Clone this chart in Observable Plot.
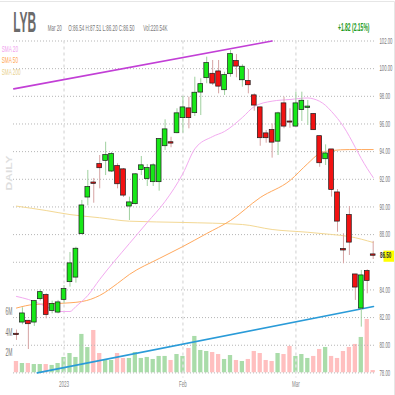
<!DOCTYPE html>
<html><head><meta charset="utf-8">
<script src="https://cdn.jsdelivr.net/npm/d3@7"></script>
<script src="https://cdn.jsdelivr.net/npm/@observablehq/plot@0.6"></script>
<style>
body{margin:0;background:#fff;}
#chart{position:relative;width:395px;height:395px;overflow:hidden;background:#fff;}
#chart svg{position:absolute;left:0;top:0;}
</style></head><body>
<div id="chart"></div>
<script>
// ---- data ----
const dates = ["Dec 20","Dec 21","Dec 22","Dec 23","Dec 27","Dec 28","Dec 29","Dec 30",
"Jan 3","Jan 4","Jan 5","Jan 6","Jan 9","Jan 10","Jan 11","Jan 12","Jan 13","Jan 17","Jan 18","Jan 19","Jan 20","Jan 23","Jan 24","Jan 25","Jan 26","Jan 27","Jan 30","Jan 31",
"Feb 1","Feb 2","Feb 3","Feb 6","Feb 7","Feb 8","Feb 9","Feb 10","Feb 13","Feb 14","Feb 15","Feb 16","Feb 17","Feb 21","Feb 22","Feb 23","Feb 24","Feb 27","Feb 28",
"Mar 1","Mar 2","Mar 3","Mar 6","Mar 7","Mar 8","Mar 9","Mar 10","Mar 13","Mar 14","Mar 15","Mar 16","Mar 17","Mar 20"];
const opens  = [80.80,81.67,81.74,81.67,83.36,83.60,82.51,82.39,83.31,84.59,84.92,88.06,90.71,91.74,93.07,93.36,92.59,92.93,92.69,90.06,90.23,92.69,92.04,91.82,91.82,94.42,94.65,95.36,96.45,97.10,96.81,98.30,99.34,99.60,99.77,98.47,99.63,100.52,99.19,99.07,98.04,97.17,95.29,95.53,94.75,97.46,96.15,95.84,97.03,97.19,96.69,95.09,93.48,94.13,91.02,86.93,89.38,85.09,82.68,85.33,86.54];
const highs  = [81.10,82.71,81.79,83.24,84.01,83.72,83.19,83.24,84.32,86.71,87.09,90.47,92.64,92.06,93.72,94.68,93.94,93.12,92.78,90.71,92.40,93.65,93.07,93.12,94.93,96.30,95.04,97.10,97.99,97.94,99.38,99.27,100.83,100.59,100.59,99.74,101.31,101.02,100.28,99.94,98.18,97.21,95.53,96.01,96.85,97.94,97.10,98.30,98.30,97.70,96.74,95.10,94.49,94.15,91.26,88.06,90.03,85.12,85.41,85.46,87.51];
const lows   = [80.35,81.48,79.69,81.36,83.19,81.91,82.27,82.27,83.00,84.20,84.49,88.00,90.08,90.27,91.31,92.27,92.49,91.31,90.68,89.02,90.15,92.27,91.48,91.48,91.14,94.08,94.28,95.29,95.33,95.65,96.54,96.61,98.91,98.78,98.18,98.06,99.38,99.34,98.66,98.18,96.92,94.39,94.61,93.53,93.72,95.65,95.69,95.80,96.18,95.89,95.53,92.87,93.00,90.71,88.17,85.89,86.49,83.24,81.31,83.72,86.20];
const closes = [80.76,82.27,81.55,83.16,83.81,82.22,82.95,83.07,84.03,85.89,86.95,90.08,91.41,91.70,92.83,93.72,93.79,91.67,90.85,90.30,92.33,92.98,92.78,92.98,94.88,95.58,94.61,96.74,97.17,96.45,98.23,98.85,100.37,98.95,98.73,99.51,101.02,100.18,100.11,98.83,97.36,95.00,95.00,94.68,96.74,95.84,96.13,97.46,97.65,97.23,95.58,93.19,93.84,91.26,88.97,86.88,87.45,84.20,85.02,84.68,86.50];
const volumesM = [1.12,0.92,0.92,0.82,0.82,0.82,0.73,0.92,1.52,1.91,1.52,3.80,2.50,4.19,1.91,1.32,1.22,1.91,1.42,1.42,2.01,1.42,1.52,1.32,1.62,1.62,1.22,1.81,1.62,2.41,3.60,2.21,2.11,2.01,1.81,1.32,1.71,1.22,1.12,1.32,2.11,1.91,1.22,1.12,1.91,1.81,2.61,1.62,1.81,1.42,1.62,2.31,2.51,1.62,1.42,2.11,2.51,2.81,3.50,5.28,0.22054];

// moving averages sampled at bar indices
const sma20Idx = [0,2,5,7,9,10,12,14,19,22,25,28,30,33,35,38,40,43,46,49,50,52,53,54,55,56,57,58,59,60];
const sma20Val = [83.53,83.31,82.80,82.44,82.44,82.80,83.60,84.76,87.36,88.88,90.40,92.42,94.20,95.09,95.46,96.47,97.26,97.65,97.77,97.88,97.81,97.34,96.90,96.40,95.82,95.10,94.30,93.50,92.78,92.13];
const sma50Idx = [0,3,7,11,14,17,19,24,28,32,36,41,46,49,51,53,56,60];
const sma50Val = [82.69,82.95,83.02,83.16,83.60,84.47,85.12,86.27,87.14,88.08,89.02,90.68,91.91,93.14,93.87,94.08,94.15,94.15];
const sma200Idx = [0,5,9,14,19,28,38,43,49,53,56,60];
const sma200Val = [90.06,89.74,89.45,89.22,88.97,88.88,88.73,88.37,88.17,88.01,87.86,87.43];

// trend lines (endpoints)
const upperTrendIdx = [-0.45, 43];
const upperTrendVal = [98.54, 102.0];
const lowerTrendIdx = [3.5, 60.05];
const lowerTrendVal = [78.0, 82.8];

const priceTicks = [78,80,82,84,86,88,90,92,94,96,98,100,102];
const hiddenPriceLabel = 86;
const volumeTicksM = [2,4,6];
const monthStarts = ["Jan 3","Feb 1","Mar 1"];
const monthLabels = ["2023","Feb","Mar"];

const ticker = "LYB";
const lastDate = "Mar 20";
const change = "+1.82 (2.15%)";
const volText = "Vol:220.54K";

// ---- build ----
const data = dates.map((d,i)=>({i, date:d, open:opens[i], high:highs[i], low:lows[i], close:closes[i], volume:volumesM[i]*1e6, up: closes[i] >= opens[i]}));
const monthIdx = monthStarts.map(m => dates.indexOf(m));
const pts = (I,V) => I.map((x,k)=>({x, y:V[k]}));
const last = data[data.length-1];

const W = 395, H = 395;
const ML = 13, MR = 20, MT = 40.5, MB = 22.6;
const xDomain = [-0.5, 60.39];
const FONT = "Liberation Sans, Arial, sans-serif";

const vol = Plot.plot({
  width: W, height: H, marginLeft: ML, marginRight: MR, marginTop: MT, marginBottom: MB,
  style: {background: "transparent", fontFamily: FONT, fontSize: "10px"},
  x: {domain: xDomain, axis: null},
  y: {domain: [0, 6e6], range: [372.3, 311.7], label: null},
  marks: [
    Plot.rect(data, {x1: d => d.i - 0.36, x2: d => d.i + 0.36, y1: 0, y2: "volume", fill: d => d.up ? "#a9dca9" : "#ffbfbf"}),
    Plot.axisY(volumeTicksM.map(v => v*1e6), {anchor: "left", tickSize: 0, tickPadding: 1, tickFormat: d => d/1e6 + "M", fill: "#777", fontSize: 10, label: null})
  ]
});

const price = Plot.plot({
  width: W, height: H, marginLeft: ML, marginRight: MR, marginTop: MT, marginBottom: MB,
  style: {background: "transparent", fontFamily: FONT, fontSize: "8.5px"},
  x: {domain: xDomain, label: null},
  y: {domain: [78, 102], label: null},
  marks: [
    Plot.gridY(priceTicks, {stroke: "#b5b5b5", strokeOpacity: 1, strokeDasharray: "1,2"}),
    Plot.ruleX(monthIdx, {stroke: "#e0e0e0", strokeWidth: 1.5, strokeDasharray: "3,3", insetBottom: -5}),
    Plot.axisY(priceTicks.filter(t => t !== hiddenPriceLabel), {anchor: "right", tickSize: 0, tickPadding: 4, tickFormat: d3.format(".2f"), fill: "#777", fontSize: 8.5, label: null}),
    Plot.axisX(monthIdx, {anchor: "bottom", tickSize: 0, tickPadding: 8, tickFormat: d => monthLabels[monthIdx.indexOf(d)], fill: "#888", fontSize: 9, label: null}),
    Plot.line(pts(sma200Idx, sma200Val), {x: "x", y: "y", stroke: "#f3d894", strokeWidth: 1, curve: "monotone-x"}),
    Plot.line(pts(sma50Idx, sma50Val), {x: "x", y: "y", stroke: "#ffa95e", strokeWidth: 1, curve: "monotone-x"}),
    Plot.line(pts(sma20Idx, sma20Val), {x: "x", y: "y", stroke: "#f3aaf0", strokeWidth: 1, curve: "monotone-x"}),
    Plot.line(pts(upperTrendIdx, upperTrendVal), {x: "x", y: "y", stroke: "#c23fd6", strokeWidth: 1.6}),
    Plot.line(pts(lowerTrendIdx, lowerTrendVal), {x: "x", y: "y", stroke: "#2a9bd8", strokeWidth: 1.6}),
    Plot.ruleX(data, {x: "i", y1: "low", y2: "high", stroke: d => d.up ? "#9fd09f" : "#d6a3a3", strokeWidth: 1}),
    Plot.rect(data, {x1: d => d.i - 0.4, x2: d => d.i + 0.4, y1: "open", y2: "close", fill: d => d.up ? "#17e817" : "#f21212", stroke: "#1a1a1a", strokeWidth: 0.7, insetTop: -0.4, insetBottom: -0.4}),
    Plot.text([last], {y: "close", frameAnchor: "right", dx: 4.5, textAnchor: "start", text: d => d.close.toFixed(2), fontWeight: "bold", fontSize: 9, fill: "#333"})
  ]
});

const chart = document.getElementById("chart");
chart.appendChild(vol);
chart.appendChild(price);

// condensed look of the reference: squeeze all chart text horizontally
function squeeze(svg, k) {
  svg.querySelectorAll("text").forEach(t => {
    const tr = t.getAttribute("transform");
    if (tr) t.setAttribute("transform", tr + ` scale(${k},1)`);
    else {
      const x = +(t.getAttribute("x") || 0), y = +(t.getAttribute("y") || 0);
      t.setAttribute("transform", `translate(${x},${y}) scale(${k},1)`);
      t.setAttribute("x", 0); t.setAttribute("y", 0);
    }
  });
}
squeeze(vol, 0.5);
squeeze(price, 0.5);

// yellow box behind the last-price label
price.querySelectorAll("text").forEach(t => {
  if (t.textContent === last.close.toFixed(2) && t.closest('g[aria-label="text"]')) {
    const r = t.getBoundingClientRect();
    const c = price.getBoundingClientRect();
    const rect = document.createElementNS("http://www.w3.org/2000/svg", "rect");
    rect.setAttribute("x", r.left - c.left - 1.5);
    rect.setAttribute("y", r.top - c.top - 0.5);
    rect.setAttribute("width", r.width + 3);
    rect.setAttribute("height", r.height + 1);
    rect.setAttribute("fill", "#ffff00");
    t.parentNode.insertBefore(rect, t);
  }
});

// header, legend and side label
const NS = "http://www.w3.org/2000/svg";
const head = document.createElementNS(NS, "svg");
head.setAttribute("width", W); head.setAttribute("height", H);
head.setAttribute("font-family", FONT);
function txt(s, x, y, size, fill, sx, extra) {
  const t = document.createElementNS(NS, "text");
  t.textContent = s;
  t.setAttribute("transform", `translate(${x},${y}) scale(${sx},1)` + (extra || ""));
  t.setAttribute("font-size", size);
  t.setAttribute("fill", fill);
  head.appendChild(t);
  return t;
}
const fmt = d3.format(".2f");
txt(ticker, 13.3, 31.7, 30, "#6b6b6b", 0.4).setAttribute("font-weight", "bold");
txt(lastDate, 47.7, 30.7, 9, "#777", 0.5);
txt(`O:${fmt(last.open)} H:${fmt(last.high)} L:${fmt(last.low)} C:${fmt(last.close)}`, 68.3, 30.7, 9, "#777", 0.5);
txt(volText, 143.3, 30.7, 9, "#777", 0.5);
txt(change, 338, 31, 10, "#229a22", 0.5).setAttribute("font-weight", "bold");
txt("SMA 20", 1.7, 51.5, 9.3, "#f0a0ee", 0.5);
txt("SMA 50", 1.7, 63.3, 9.3, "#ffa552", 0.5);
txt("SMA 200", 1.7, 75, 9.3, "#e8cf8c", 0.5);
const daily = txt("DAILY", 12, 173, 12, "#dedede", 0.75, " rotate(-90)");
daily.setAttribute("text-anchor", "middle");
daily.setAttribute("font-weight", "bold");
const border = document.createElementNS(NS, "path");
border.setAttribute("d", "M0,1.5H394.5V395");
border.setAttribute("fill", "none");
border.setAttribute("stroke", "#e6e6e6");
head.appendChild(border);
chart.appendChild(head);
</script>
</body></html>
